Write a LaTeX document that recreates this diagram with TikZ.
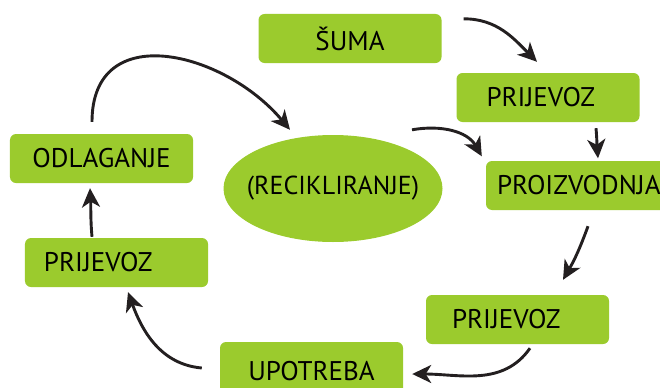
\documentclass[tikz,border=0pt]{standalone}
\usepackage{fontspec}
\setmainfont{PT Sans}
\usetikzlibrary{arrows.meta,shapes.geometric,positioning}
\definecolor{leaf}{RGB}{155,203,45}
\definecolor{ink}{RGB}{35,31,32}

\begin{document}
\begin{tikzpicture}[x=1bp, y=1bp,
        box/.style={rectangle, rounded corners=6bp, fill=leaf, minimum height=49bp,
            text width=163bp, inner xsep=10bp, inner ysep=0pt, font=\fontsize{27bp}{28bp}\selectfont},
        flow/.style={ink, line width=2.9bp, -{Stealth[length=19bp, width=18bp, inset=5.5bp]}}]
        \useasboundingbox (0,0) rectangle (660,387);
        \begin{scope}
        \clip (0,0) rectangle (660,387);
        \node[box, align=center] (suma) at (350, 348.5) {ŠUMA};
        \node[box, align=left] (pra) at (548, 289.5) {\hspace*{20bp}PRIJEVOZ};
        \node[box, align=left] (proiz) at (577.5, 201.5) {\hspace*{1bp}\mbox{PROIZVODNJA}};
        \node[box, align=left] (prb) at (517.5, 67.5) {\hspace*{16bp}PRIJEVOZ};
        \node[box, align=center, minimum height=59bp] (upo) at (311.5, 15.5) {UPOTREBA};
        \node[box, align=left] (prc) at (116.5, 124.5) {\hspace*{9bp}PRIJEVOZ};
        \node[box, align=center] (odl) at (101.5, 228.5) {ODLAGANJE};
        \node[ellipse, fill=leaf, minimum width=219bp, minimum height=107bp, inner sep=-25bp,
            font=\fontsize{26bp}{28bp}\selectfont] (rec) at (333, 198.5) {(RECIKLIRANJE)};
        \end{scope}
        % cycle
        \draw[flow] ([shift={(22,-5)}]suma.north east) to[out=0, in=135] ([shift={(-11,11)}]pra.north);
        \draw[flow] ([shift={(48,-6)}]pra.south) to[out=-85, in=95] ([shift={(20.5,2.5)}]proiz.north);
        \draw[flow] ([shift={(10.5,-16)}]proiz.south) to[out=-110, in=60] ([shift={(45.5,15)}]prb.north);
        \draw[flow] ([shift={(12.5,-4)}]prb.south) to[out=-125, in=0] ([shift={(9,-2.5)}]upo.east);
        \draw[flow] ([shift={(-18,3.5)}]upo.west) to[out=175, in=-70] ([shift={(11.5,-5)}]prc.south);
        \draw[flow] ([shift={(-24.5,1)}]prc.north) to[out=95, in=-87] ([shift={(-11.5,-5)}]odl.south);
        \draw[flow] ([shift={(-9.5,12)}]odl.north) to[out=90, in=130, looseness=1.33] ([shift={(-43,5)}]rec.north);
        % recycling back
        \draw[flow] ([shift={(79,5)}]rec.north) to[out=10, in=120] ([shift={(-4,4.5)}]proiz.north west);
\end{tikzpicture}
\end{document}
